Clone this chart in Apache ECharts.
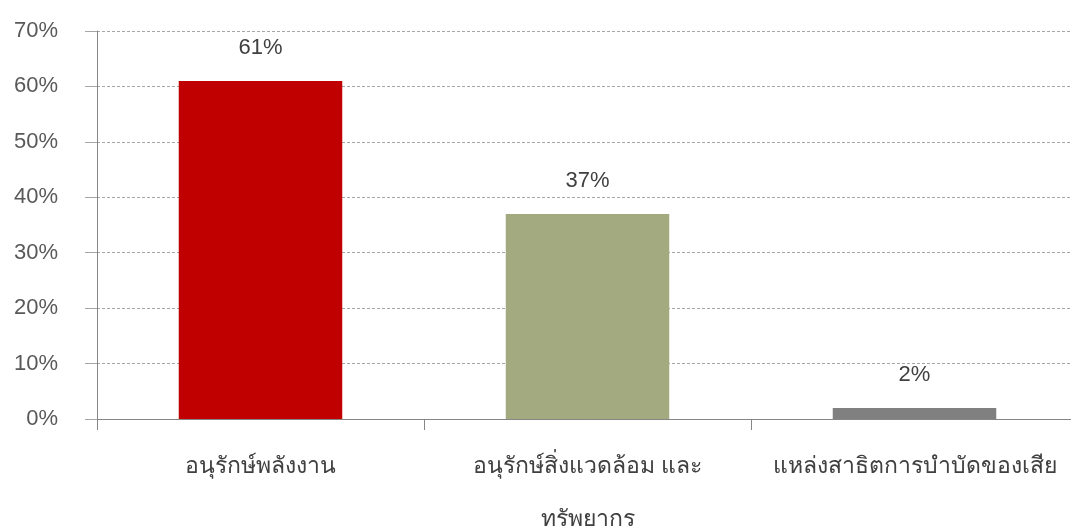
<!DOCTYPE html>
<html>
<head>
<meta charset="utf-8">
<script src="https://cdn.jsdelivr.net/npm/echarts@6/dist/echarts.min.js"></script>
<style>
  html, body { margin: 0; padding: 0; background: #fff; }
  #chart { width: 1071px; height: 530px; }
</style>
</head>
<body>
<div id="chart"></div>
<script>
var categories = ['อนุรักษ์พลังงาน', 'อนุรักษ์สิ่งแวดล้อม และ\nทรัพยากร', 'แหล่งสาธิตการบำบัดของเสีย'];
var values = [61, 37, 2];
var barColors = ['#c00000', '#a4aa80', '#808080'];
var yTicks = [0, 10, 20, 30, 40, 50, 60, 70];

var font = '"Liberation Sans", "Noto Sans", "DejaVu Sans", sans-serif';
var chart = echarts.init(document.getElementById('chart'));

var option = {
  animation: false,
  grid: { left: 97, top: 31, width: 981, height: 388, outerBoundsMode: 'none' },
  xAxis: {
    type: 'category',
    data: categories,
    axisLine: { lineStyle: { color: '#868686' } },
    axisTick: { show: true, length: 11, interval: 0, lineStyle: { color: '#868686' } },
    axisLabel: {
      interval: 0,
      margin: 21,
      fontSize: 23,
      lineHeight: 53,
      color: '#404040',
      fontFamily: font
    }
  },
  yAxis: {
    type: 'value',
    min: yTicks[0],
    max: yTicks[yTicks.length - 1],
    interval: 10,
    axisLine: { show: true, lineStyle: { color: '#868686' } },
    axisTick: { show: true, length: 12, lineStyle: { color: '#a6a6a6' } },
    splitLine: { lineStyle: { color: '#a6a6a6', type: [3, 2], width: 1 } },
    axisLabel: {
      formatter: '{value}%',
      margin: 39,
      fontSize: 22,
      color: '#595959',
      fontFamily: font
    }
  },
  series: [
    {
      type: 'bar',
      barWidth: '50%',
      data: values.map(function (v, i) {
        return { value: v, itemStyle: { color: barColors[i] } };
      }),
      label: {
        show: true,
        position: 'top',
        distance: 22,
        formatter: '{c}%',
        fontSize: 22,
        color: '#404040',
        fontFamily: font
      }
    }
  ]
};

chart.setOption(option);
</script>
</body>
</html>
